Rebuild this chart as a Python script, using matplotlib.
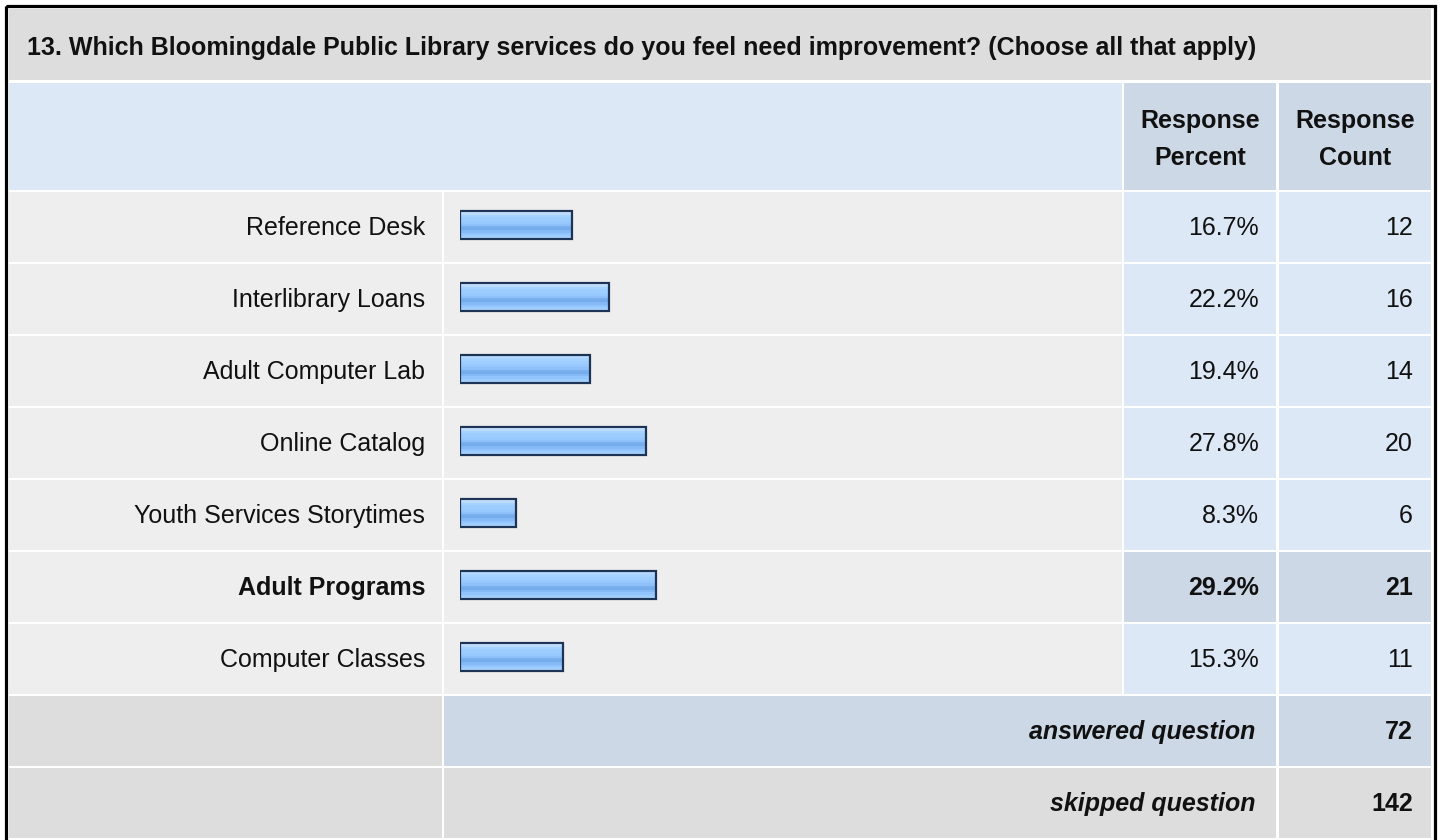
import numpy as np
import matplotlib
matplotlib.use("Agg")
import matplotlib.pyplot as plt
from matplotlib.patches import Rectangle

plt.rcParams["font.family"] = "sans-serif"
plt.rcParams["font.sans-serif"] = ["Liberation Sans", "Arimo", "DejaVu Sans"]

# --- data -------------------------------------------------------------------
title = ("13. Which Bloomingdale Public Library services do you feel need "
         "improvement? (Choose all that apply)")
services = [
    "Reference Desk",
    "Interlibrary Loans",
    "Adult Computer Lab",
    "Online Catalog",
    "Youth Services Storytimes",
    "Adult Programs",
    "Computer Classes",
]
percents = [16.7, 22.2, 19.4, 27.8, 8.3, 29.2, 15.3]
counts = [12, 16, 14, 20, 6, 21, 11]
answered = 72
skipped = 142

# --- styling ----------------------------------------------------------------
W, H = 1440, 840
GREY = "#dddddd"
ROW_BG = "#eeeeee"
LIGHT_BLUE = "#dce8f5"
MID_BLUE = "#ccd8e6"
TXT = "#111111"
FS = 18
STRIPES = ["#d2e8ff", "#b8dbff", "#a8d2ff", "#9ecdff", "#9ccbff", "#97c7fd",
           "#8fc1f8", "#7aafed", "#74abeb", "#84b9f3", "#92c5fd", "#9ecdff",
           "#b0d6ff"]

# column edges (px)
c_lab = (9, 442)
c_bar = (444, 1122)
c_pct = (1124, 1276)
c_cnt = (1279, 1431)
row0, pitch, cell_h = 192, 72, 70

fig = plt.figure(figsize=(W / 100, H / 100), dpi=100)
fig.patch.set_facecolor("white")
ax = fig.add_axes([0, 0, 1, 1])
ax.set_xlim(0, W)
ax.set_ylim(H, 0)
ax.axis("off")


def cell(x0, x1, y0, y1, color):
    ax.add_patch(Rectangle((x0, y0), x1 - x0, y1 - y0, facecolor=color,
                           edgecolor="none", zorder=1))


# title row
cell(c_lab[0], c_cnt[1], 9, 80, GREY)
ax.text(27, 55, title, fontsize=FS, fontweight="bold", color=TXT,
        ha="left", va="baseline")

# header row
cell(c_lab[0], c_bar[1], 83, 190, LIGHT_BLUE)
cell(c_pct[0], c_pct[1], 83, 190, MID_BLUE)
cell(c_cnt[0], c_cnt[1], 83, 190, MID_BLUE)
for col, word in ((c_pct, "Percent"), (c_cnt, "Count")):
    cx = (col[0] + col[1]) / 2
    ax.text(cx, 128, "Response", fontsize=FS, fontweight="bold", color=TXT,
            ha="center", va="baseline")
    ax.text(cx, 165, word, fontsize=FS, fontweight="bold", color=TXT,
            ha="center", va="baseline")

top_idx = int(np.argmax(counts))
for i, (name, pct, cnt) in enumerate(zip(services, percents, counts)):
    y0 = row0 + pitch * i
    y1 = y0 + cell_h
    hl = i == top_idx
    val_bg = MID_BLUE if hl else LIGHT_BLUE
    weight = "bold" if hl else "normal"
    cell(c_lab[0], c_lab[1], y0, y1, ROW_BG)
    cell(c_bar[0], c_bar[1], y0, y1, ROW_BG)
    cell(c_pct[0], c_pct[1], y0, y1, val_bg)
    cell(c_cnt[0], c_cnt[1], y0, y1, val_bg)
    base = y0 + 43
    ax.text(425, base, name, fontsize=FS, fontweight=weight, color=TXT,
            ha="right", va="baseline")
    ax.text(1259, base, f"{pct:.1f}%", fontsize=FS, fontweight=weight,
            color=TXT, ha="right", va="baseline")
    ax.text(1413, base, f"{cnt}", fontsize=FS, fontweight=weight,
            color=TXT, ha="right", va="baseline")

# footer rows
yA = row0 + pitch * len(services)
yS = yA + pitch
cell(c_lab[0], c_lab[1], yA, yA + cell_h, GREY)
cell(c_bar[0], c_pct[1], yA, yA + cell_h, MID_BLUE)
cell(c_cnt[0], c_cnt[1], yA, yA + cell_h, MID_BLUE)
cell(c_lab[0], c_lab[1], yS, yS + cell_h, GREY)
cell(c_bar[0], c_pct[1], yS, yS + cell_h, GREY)
cell(c_cnt[0], c_cnt[1], yS, yS + cell_h, GREY)
for yy, label, val in ((yA, "answered question", answered),
                       (yS, "skipped question", skipped)):
    ax.text(1255, yy + 43, label, fontsize=FS, fontweight="bold",
            fontstyle="italic", color=TXT, ha="right", va="baseline")
    ax.text(1413, yy + 43, f"{val}", fontsize=FS, fontweight="bold",
            color=TXT, ha="right", va="baseline")

# outer frame
ax.add_patch(Rectangle((5.5, 6), 1429, 900, facecolor="none",
                       edgecolor="black", linewidth=2.3, zorder=5,
                       clip_on=False))

# --- bars (percent scale) ---------------------------------------------------
bx0, bw = 460, 670
n = len(services)
bax = fig.add_axes([bx0 / W, (H - (row0 + pitch * n)) / H, bw / W,
                    pitch * n / H])
bax.patch.set_alpha(0)
bax.axis("off")
grad = np.array([[matplotlib.colors.to_rgb(c)] for c in STRIPES])
bh = 28 / pitch
for i, pct in enumerate(percents):
    yc = i + 0.46
    bax.imshow(grad, extent=(0, pct, yc + bh / 2, yc - bh / 2),
               origin="upper", aspect="auto", interpolation="nearest",
               zorder=2)
    bax.add_patch(Rectangle((0, yc - bh / 2), pct, bh, facecolor="none",
                            edgecolor="#1d3457", linewidth=1.6, zorder=3))
bax.set_xlim(0, 100)
bax.set_ylim(n, 0)

fig.savefig("out.png", dpi=100)
